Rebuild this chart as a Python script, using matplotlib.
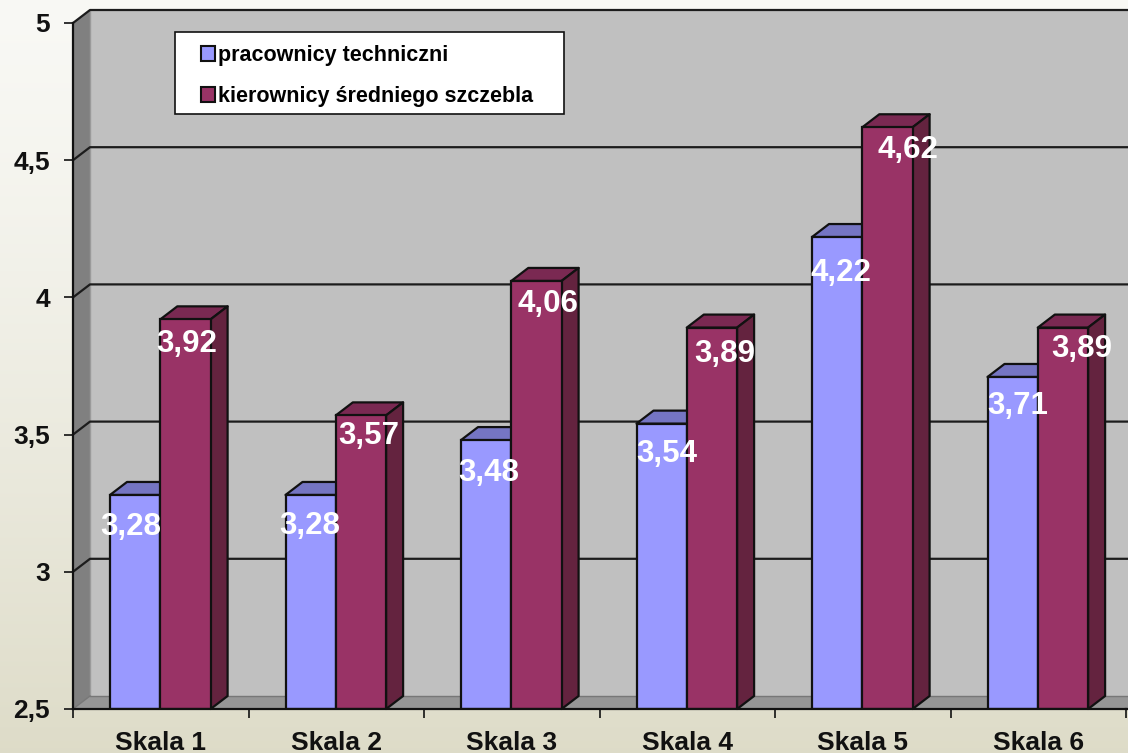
import numpy as np
import matplotlib
matplotlib.use("Agg")
import matplotlib.pyplot as plt
from matplotlib.patches import Polygon, Patch, Rectangle
from matplotlib.transforms import Affine2D

categories = ["Skala 1", "Skala 2", "Skala 3", "Skala 4", "Skala 5", "Skala 6"]
series_names = ["pracownicy techniczni", "kierownicy średniego szczebla"]
tech = [3.28, 3.28, 3.48, 3.54, 4.22, 3.71]
mgr = [3.92, 3.57, 4.06, 3.89, 4.62, 3.89]
tick_values = [2.5, 3, 3.5, 4, 4.5, 5]
tick_labels = ["2,5", "3", "3,5", "4", "4,5", "5"]
# label offsets from the top centre of each bar, in pixels
tech_off = [(-4, -32), (-1, -31), (3, -33), (5, -30), (4, -36), (5, -29)]
mgr_off = [(1, -25), (8, -21), (11, -23), (13, -26), (20, -23), (19, -21)]

W, H, DPI = 1128, 753, 100
plt.rcParams["font.family"] = ["Liberation Sans", "DejaVu Sans"]
fig = plt.figure(figsize=(W / DPI, H / DPI), dpi=DPI)

bg = fig.add_axes([0, 0, 1, 1], zorder=-1)
bg.axis("off")
grad = np.linspace(0, 1, 256).reshape(-1, 1) ** 1.3
top, bot = np.array([0.975, 0.975, 0.96]), np.array([0.87, 0.862, 0.785])
bg.imshow(top + (bot - top) * grad[..., None], aspect="auto", extent=[0, 1, 0, 1])

x0, x1, yb, yt = 73, 1126, 709, 23
ax = fig.add_axes([x0 / W, 1 - yb / H, (x1 - x0) / W, (yb - yt) / H])
ax.set_xlim(0, 6)
ax.set_ylim(2.5, 5)
ax.patch.set_visible(False)
px_x = 6 / (x1 - x0)
px_y = 2.5 / (yb - yt)
dx, dy = 17 * px_x, 13 * px_y
ext = 6.2
EDGE = "#111111"
LW = 1.6


def poly(pts, fc, ec="none", lw=0, z=1):
    ax.add_patch(Polygon(pts, closed=True, fc=fc, ec=ec, lw=lw, zorder=z,
                         clip_on=False, joinstyle="round"))


# walls and floor
poly([(dx, 2.5 + dy), (ext, 2.5 + dy), (ext, 5 + dy), (dx, 5 + dy)], "#C0C0C0", z=1)
poly([(0, 2.5), (dx, 2.5 + dy), (dx, 5 + dy), (0, 5)], "#808080", z=1)
poly([(0, 2.5), (ext, 2.5), (ext, 2.5 + dy), (dx, 2.5 + dy)], "#969696", z=1)
ax.plot([dx, dx], [2.5 + dy, 5 + dy], color="#9a9a9a", lw=1, zorder=1.5, clip_on=False)
ax.plot([dx, ext], [2.5 + dy, 2.5 + dy], color="#777777", lw=1, zorder=1.5, clip_on=False)
ax.plot([0, dx], [2.5, 2.5 + dy], color="#777777", lw=1, zorder=1.5, clip_on=False)

# gridlines on the back wall
for v in tick_values[1:]:
    ax.plot([0, dx, ext], [v, v + dy, v + dy], color="#1c1c1c", lw=1.6,
            zorder=2, clip_on=False)

# bars
n = np.arange(len(categories))
gap = 37 * px_x
bw = 50.3 * px_x
for i in n:
    left = i + gap
    mid = left + bw
    v1, v2 = tech[i], mgr[i]
    poly([(left, v1), (left + dx, v1 + dy), (mid + dx, v1 + dy), (mid, v1)],
         "#7575C3", EDGE, LW, z=3 + i)
    ax.bar(left, v1 - 2.5, bw, bottom=2.5, align="edge", color="#9999FF",
           edgecolor=EDGE, lw=LW, zorder=3.1 + i)
    poly([(mid, v2), (mid + dx, v2 + dy), (mid + bw + dx, v2 + dy), (mid + bw, v2)],
         "#7A2952", EDGE, LW, z=3.2 + i)
    poly([(mid + bw, 2.5), (mid + bw + dx, 2.5 + dy), (mid + bw + dx, v2 + dy), (mid + bw, v2)],
         "#64233F", EDGE, LW, z=3.2 + i)
    ax.bar(mid, v2 - 2.5, bw, bottom=2.5, align="edge", color="#993366",
           edgecolor=EDGE, lw=LW, zorder=3.3 + i)

# value labels
for i in n:
    for v, off, c in ((tech[i], tech_off[i], gap + bw / 2), (mgr[i], mgr_off[i], gap + bw * 1.5)):
        ax.annotate(f"{v:.2f}".replace(".", ","), (i + c, v), xytext=off,
                    textcoords="offset pixels", ha="center", va="center",
                    color="white", fontsize=22.5, fontweight="bold", zorder=20)

# axes
for s in ("top", "right"):
    ax.spines[s].set_visible(False)
for s in ("left", "bottom"):
    ax.spines[s].set_linewidth(1.6)
    ax.spines[s].set_color(EDGE)
    ax.spines[s].set_zorder(15)
ax.plot([6, ext], [2.5, 2.5], color=EDGE, lw=1.6, zorder=15, clip_on=False)
ax.set_yticks(tick_values)
ax.set_yticklabels(tick_labels, fontsize=19, fontweight="bold", color="#111111")
for lab in ax.get_yticklabels():
    lab.set_transform(lab.get_transform() + Affine2D().translate(0, -1))
ax.set_xticks(np.arange(7))
ax.set_xticklabels([])
ax.set_xticks(n + 0.5, categories, minor=True, fontsize=19, fontweight="bold", color="#111111")
ax.tick_params(axis="y", length=6.5, width=1.2, pad=10, color=EDGE)
ax.tick_params(axis="x", which="major", length=6.5, width=1.2, color=EDGE)
ax.tick_params(axis="x", which="minor", length=0, pad=16)

# legend: white box with a frameless legend centred on it
bx0, bx1, by0, by1 = 175, 564, 32, 114
box = Rectangle((bx0 / W, 1 - by1 / H), (bx1 - bx0) / W, (by1 - by0) / H,
                transform=fig.transFigure, fc="white", ec=EDGE, lw=1.2, zorder=30)
fig.add_artist(box)
handles = [Patch(fc="#9999FF", ec=EDGE, lw=1.5), Patch(fc="#993366", ec=EDGE, lw=1.5)]
leg = fig.legend(handles, series_names, loc="center",
                 bbox_to_anchor=(((bx0 + bx1) / 2 - 2.5) / W, 1 - ((by0 + by1) / 2 + 3) / H),
                 frameon=False, handlelength=0.65, handleheight=0.65,
                 handletextpad=0.12, labelspacing=0.93, borderpad=0,
                 prop={"weight": "bold", "size": 15.5})
leg.set_zorder(31)

fig.savefig("out.png", dpi=DPI)
